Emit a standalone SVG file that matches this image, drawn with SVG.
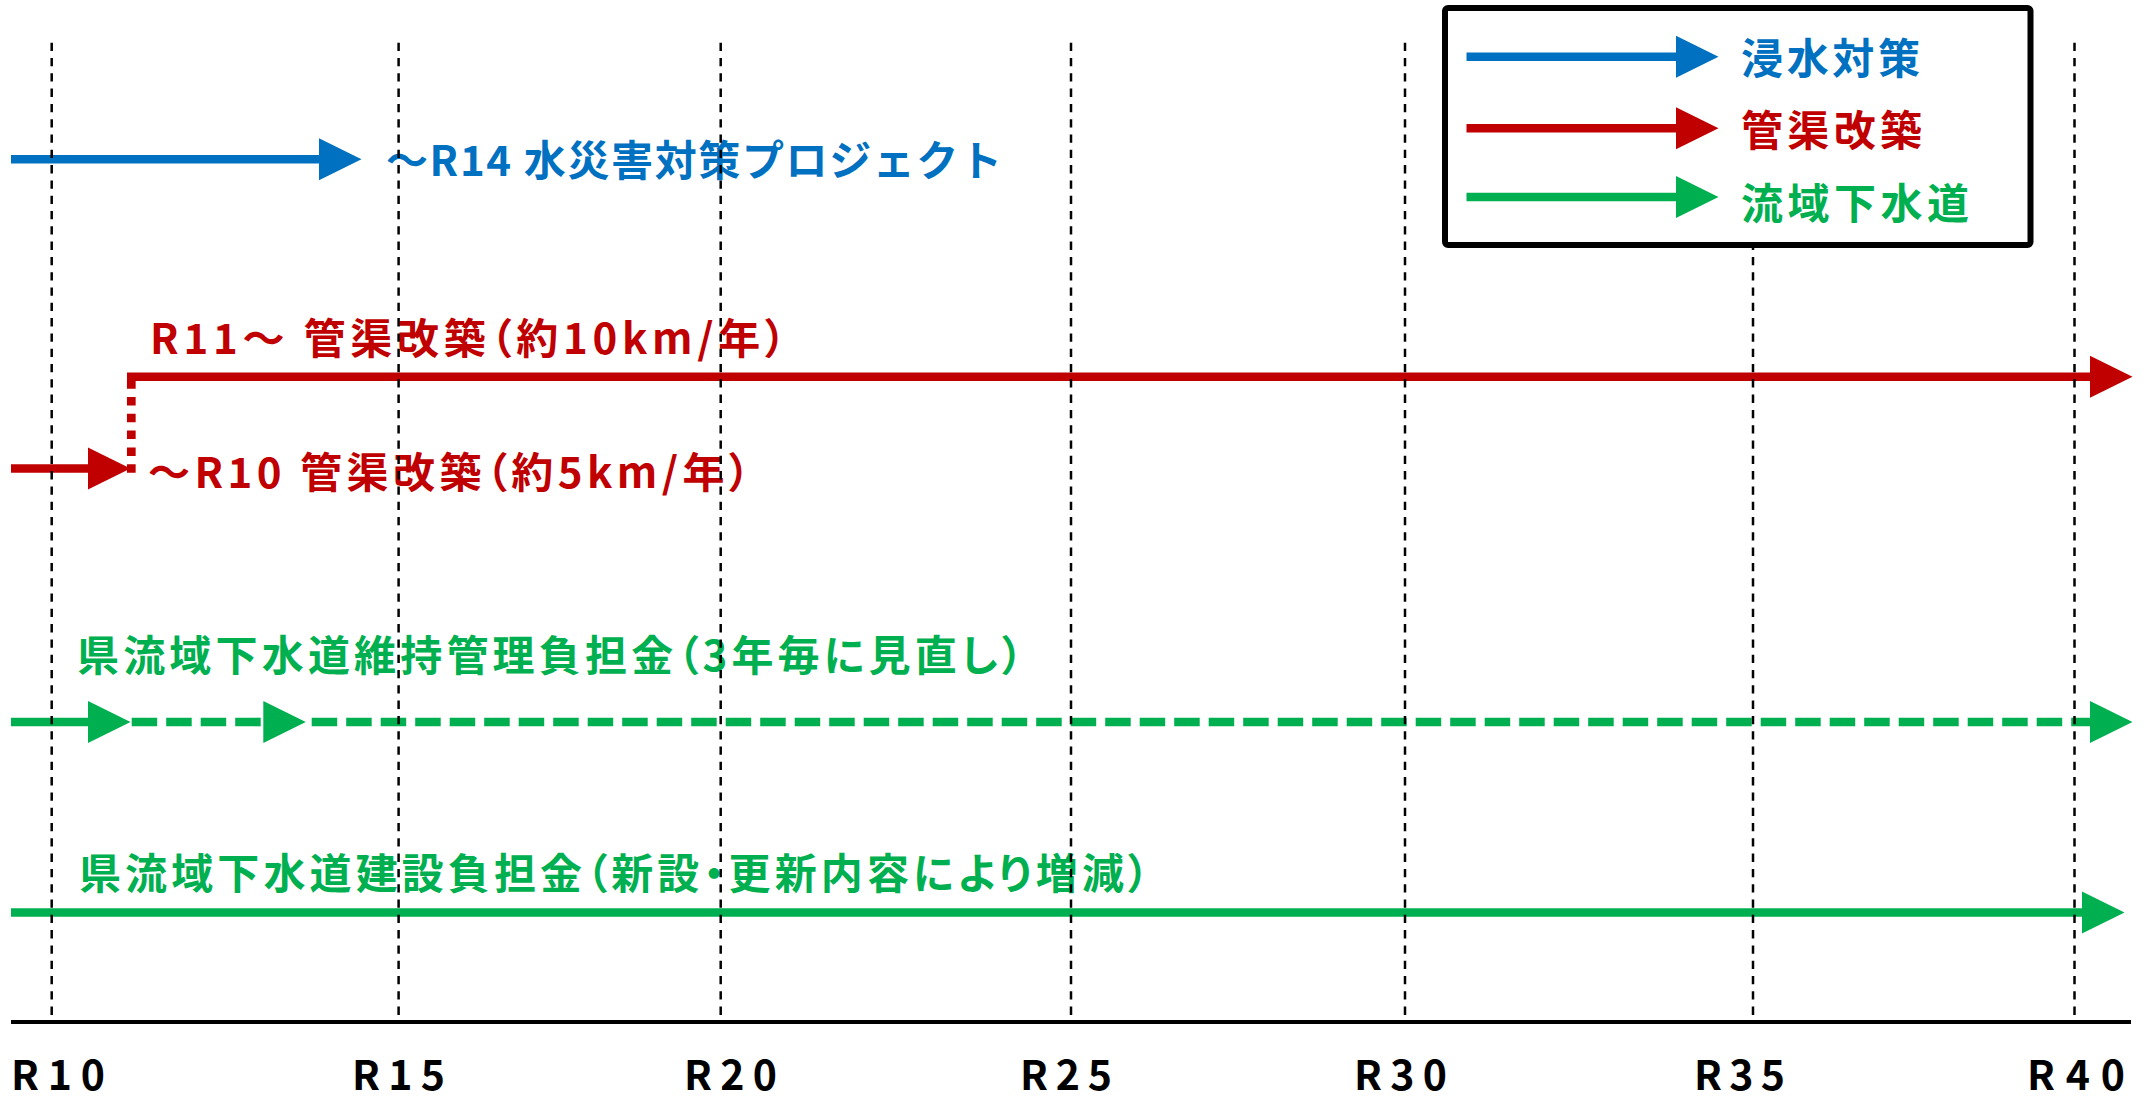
<svg xmlns="http://www.w3.org/2000/svg" xmlns:xlink="http://www.w3.org/1999/xlink" width="2145" height="1098" viewBox="0 0 2145 1098">
<style>
.t{font-family:"Noto Sans CJK JP","Noto Sans",sans-serif;font-weight:bold;font-size:42px}
.p{font-feature-settings:"palt" 1}
.blue{fill:#0070C0}
.red{fill:#C00000}
.green{fill:#00B050}
.sb{stroke:#0070C0}
.sr{stroke:#C00000}
.sg{stroke:#00B050}
.ln{stroke-width:8.6;fill:none}
.grid{stroke:#000;stroke-width:2.5;stroke-dasharray:8.3 7;fill:none}
.ax{font-family:"Noto Sans CJK JP","Noto Sans",sans-serif;font-weight:bold;font-size:41px;fill:#000}
</style>
<defs>
<path id="head" d="M0,-21 L42.5,0 L0,21 Z"/>
</defs>
<rect width="2145" height="1098" fill="#fff"/>

<g id="connectors">
  <g id="arrow-blue">
    <line class="ln sb" x1="11" y1="159.3" x2="320" y2="159.3"/>
    <use xlink:href="#head" x="319" y="159.3" class="blue"/>
  </g>
  <g id="arrow-red-r10">
    <line class="ln sr" x1="11" y1="468.5" x2="89" y2="468.5"/>
    <use xlink:href="#head" x="88" y="468.5" class="red"/>
  </g>
  <g id="arrow-red-step">
    <line class="sr" stroke-width="8.7" stroke-dasharray="8.5 8.3" x1="131.3" y1="472.7" x2="131.3" y2="379"/>
  </g>
  <g id="arrow-red-r11">
    <line class="ln sr" x1="127" y1="376.7" x2="2091" y2="376.7"/>
    <use xlink:href="#head" x="2090" y="376.7" class="red"/>
  </g>
  <g id="arrow-green-dashed">
    <line class="ln sg" x1="11" y1="722" x2="89" y2="722"/>
    <use xlink:href="#head" x="88" y="722" class="green"/>
    <line class="ln sg" stroke-dasharray="25.5 9" x1="131.7" y1="722" x2="263.3" y2="722"/>
    <use xlink:href="#head" x="263.3" y="722" class="green"/>
    <line class="ln sg" stroke-dasharray="25.5 9" x1="311.7" y1="722" x2="2091" y2="722"/>
    <use xlink:href="#head" x="2090" y="722" class="green"/>
  </g>
  <g id="arrow-green-solid">
    <line class="ln sg" x1="11" y1="912.5" x2="2083" y2="912.5"/>
    <use xlink:href="#head" x="2082" y="912.5" class="green"/>
  </g>
</g>

<g id="label-blue"><text class="t blue" x="386" y="176" textLength="616" lengthAdjust="spacing">～R14 水災害対策プロジェクト</text></g>
<g id="label-red-r11"><text class="t p red" x="150" y="353.5" textLength="636" lengthAdjust="spacing">R11～ 管渠改築（約10km/年）</text></g>
<g id="label-red-r10"><text class="t p red" x="148" y="487.5" textLength="602" lengthAdjust="spacing">～R10 管渠改築（約5km/年）</text></g>
<g id="label-green-maint"><text class="t p green" x="77" y="671" textLength="946" lengthAdjust="spacing">県流域下水道維持管理負担金（3年毎に見直し）</text></g>
<g id="label-green-build"><text class="t p green" x="79" y="889" textLength="1070" lengthAdjust="spacing">県流域下水道建設負担金（新設・更新内容により増減）</text></g>

<g id="grid">
  <line class="grid" x1="51.7" y1="42.7" x2="51.7" y2="1020"/>
  <line class="grid" x1="398.6" y1="42.7" x2="398.6" y2="1020"/>
  <line class="grid" x1="720.7" y1="42.7" x2="720.7" y2="1020"/>
  <line class="grid" x1="1071" y1="42.7" x2="1071" y2="1020"/>
  <line class="grid" x1="1405" y1="42.7" x2="1405" y2="1020"/>
  <line class="grid" x1="1753" y1="42.7" x2="1753" y2="1020"/>
  <line class="grid" x1="2074.5" y1="42.7" x2="2074.5" y2="1020"/>
</g>

<g id="axis">
  <line x1="11" y1="1022" x2="2131" y2="1022" stroke="#000" stroke-width="4"/>
  <text class="ax" x="11" y="1090" textLength="94" lengthAdjust="spacing">R10</text>
  <text class="ax" x="352" y="1090" textLength="93" lengthAdjust="spacing">R15</text>
  <text class="ax" x="684" y="1090" textLength="93" lengthAdjust="spacing">R20</text>
  <text class="ax" x="1020" y="1090" textLength="92" lengthAdjust="spacing">R25</text>
  <text class="ax" x="1354" y="1090" textLength="93" lengthAdjust="spacing">R30</text>
  <text class="ax" x="1694" y="1090" textLength="91" lengthAdjust="spacing">R35</text>
  <text class="ax" x="2027" y="1090" textLength="98" lengthAdjust="spacing">R40</text>
</g>

<g id="legend">
  <rect x="1445" y="8" width="585.5" height="237" rx="3" fill="#fff" stroke="#000" stroke-width="6"/>
  <line class="ln sb" x1="1466.5" y1="56.7" x2="1677" y2="56.7"/>
  <use xlink:href="#head" x="1676" y="56.7" class="blue"/>
  <line class="ln sr" x1="1466.5" y1="128.3" x2="1677" y2="128.3"/>
  <use xlink:href="#head" x="1676" y="128.3" class="red"/>
  <line class="ln sg" x1="1466.5" y1="197" x2="1677" y2="197"/>
  <use xlink:href="#head" x="1676" y="197" class="green"/>
  <text class="t blue" x="1741" y="74" font-size="44" textLength="179" lengthAdjust="spacing">浸水対策</text>
  <text class="t red" x="1741" y="146" font-size="44" textLength="181" lengthAdjust="spacing">管渠改築</text>
  <text class="t green" x="1741" y="218.5" font-size="44" textLength="228" lengthAdjust="spacing">流域下水道</text>
</g>
</svg>
